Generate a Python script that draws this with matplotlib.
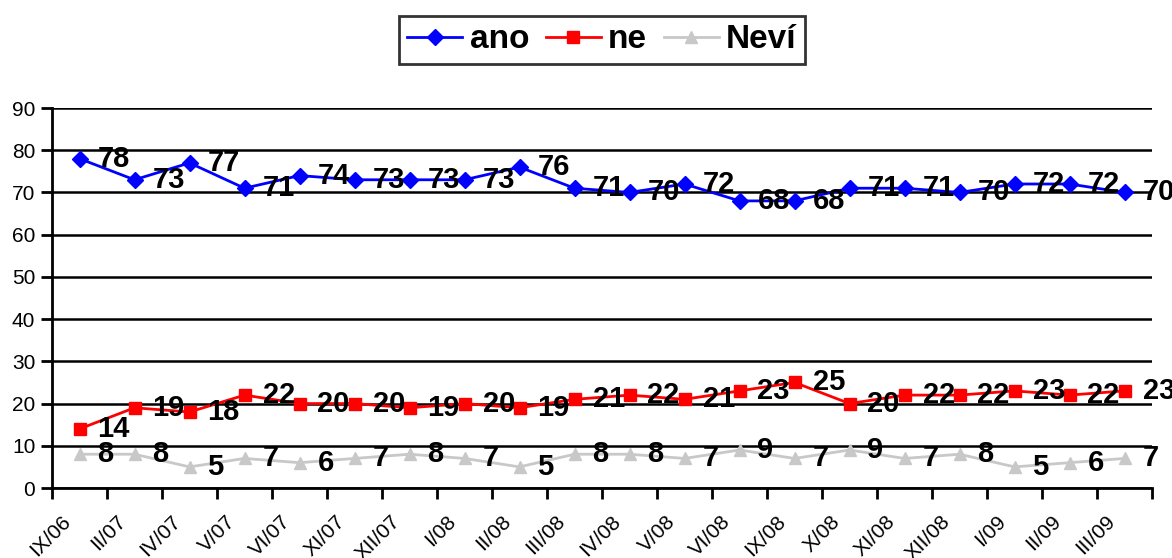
import matplotlib.pyplot as plt
import matplotlib.transforms as mtransforms

plt.rcParams['font.family'] = ['Liberation Sans', 'DejaVu Sans']

categories = ['IX/06', 'II/07', 'IV/07', 'V/07', 'VI/07', 'XI/07', 'XII/07', 'I/08', 'II/08', 'III/08',
              'IV/08', 'V/08', 'VI/08', 'IX/08', 'X/08', 'XI/08', 'XII/08', 'I/09', 'II/09', 'III/09']
ano = [78, 73, 77, 71, 74, 73, 73, 73, 76, 71, 70, 72, 68, 68, 71, 71, 70, 72, 72, 70]
ne = [14, 19, 18, 22, 20, 20, 19, 20, 19, 21, 22, 21, 23, 25, 20, 22, 22, 23, 22, 23]
nevi = [8, 8, 5, 7, 6, 7, 8, 7, 5, 8, 8, 7, 9, 7, 9, 7, 8, 5, 6, 7]

fig = plt.figure(figsize=(11.72, 5.58), dpi=100)
ax = fig.add_axes([52 / 1172, 1 - 488 / 558, 1100 / 1172, 380 / 558])

x = list(range(len(categories)))
series = [
    (ano, 'ano', '#0000FF', 'D', 8),
    (ne, 'ne', '#FF0000', 's', 9),
    (nevi, 'Neví', '#C8C8C8', '^', 9),
]

for vals, name, col, mk, ms in series:
    ax.plot(x, vals, color=col, marker=mk, markersize=ms, lw=2, label=name, zorder=3)
    for xi, v in zip(x, vals):
        ax.annotate(str(v), (xi, v), xytext=(18, 0), textcoords='offset pixels',
                    ha='left', va='center', fontsize=21, fontweight='bold', zorder=4)

ax.set_ylim(0, 90)
ax.set_xlim(-0.5, len(categories) - 0.5)
ax.set_yticks(range(0, 91, 10))
ax.yaxis.grid(True, color='black', lw=1.8)
ax.set_axisbelow(True)

ax.set_xticks([i - 0.5 for i in range(len(categories) + 1)])
ax.set_xticklabels([])
ax.set_xticks(x, minor=True)
ax.set_xticklabels(categories, minor=True, rotation=45, ha='right', va='center',
                   rotation_mode='anchor', fontsize=15)
ax.tick_params(axis='x', which='minor', length=0, pad=22)
ax.tick_params(axis='x', which='major', length=8, width=2)
ax.tick_params(axis='y', length=8, width=2, labelsize=15, pad=4)

shift = mtransforms.ScaledTranslation(-0.12, 0, fig.dpi_scale_trans)
for lab in ax.xaxis.get_minorticklabels():
    lab.set_transform(lab.get_transform() + shift)

for s in ['top', 'right']:
    ax.spines[s].set_visible(False)
for s in ['left', 'bottom']:
    ax.spines[s].set_linewidth(2)

leg = fig.legend(loc='center', bbox_to_anchor=(602 / 1172, 1 - 40 / 558), ncol=3,
                 prop={'weight': 'bold', 'size': 24}, frameon=True, fancybox=False,
                 edgecolor='black', handlelength=1.65, columnspacing=0.5, handletextpad=0.22,
                 borderpad=0.25, borderaxespad=0)
leg.get_frame().set_linewidth(2)

fig.savefig('out.png', dpi=100)
